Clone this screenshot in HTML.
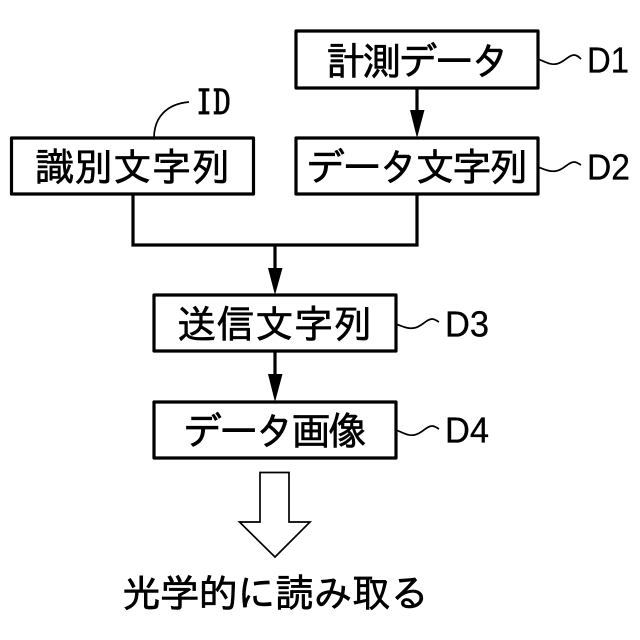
<!DOCTYPE html>
<html><head><meta charset="utf-8"><style>
html,body{margin:0;padding:0;background:#fff}
svg{display:block}
text{font-family:"IPAGothic","Noto Sans CJK JP",sans-serif;fill:#000}
.l{font-family:"Liberation Sans",sans-serif;font-size:36px;stroke:#000;stroke-width:.3px}
.j{font-size:39px;stroke:#000;stroke-width:.6px}
</style></head><body>
<svg width="640" height="640" viewBox="0 0 640 640" xmlns="http://www.w3.org/2000/svg">
<g fill="#fff" stroke="#000" stroke-width="3.2" stroke-linejoin="round">
<rect x="296" y="31" width="242" height="57"/>
<rect x="296" y="138" width="242" height="56"/>
<rect x="11.500" y="138" width="242" height="56"/>
<rect x="154" y="295" width="242" height="56"/>
<rect x="154" y="402" width="242" height="56"/>
</g>
<g fill="none" stroke="#000" stroke-width="3.200">
<path d="M417 88V120"/>
<path d="M133 194V245H417V194"/>
<path d="M275 245V275"/>
<path d="M275 351V378"/>
</g>
<g fill="#000">
<path d="M410 110H424.500L417 138Z"/>
<path d="M268 268H282.500L275 295Z"/>
<path d="M268 374H282.500L275 402Z"/>
</g>
<g fill="none" stroke="#000" stroke-width="1.700">
<path d="M154 138C154 118 166 104 189 102"/>
<path d="M538 59C546 62 550 65 556 64C564 63 568 55 574 55C577 55 579 57 581 59"/>
<path d="M538 167C546 170 550 172 556 171C564 170 568 162 574 162C577 162 579 164 581 165"/>
<path d="M396 324C404 327 408 329 414 328C422 327 426 319 432 319C435 319 437 321 439 322"/>
<path d="M396 430C404 433 408 436 414 435C422 434 426 426 432 426C435 426 437 428 439 429"/>
</g>
<path d="M260 472.500H289V522H310L275 557L239.500 522H260Z" fill="#fff" stroke="#000" stroke-width="1.700"/>
<text class="j" x="326" y="75" textLength="184" lengthAdjust="spacing">計測データ</text>
<text class="j" x="35" y="181" textLength="195" lengthAdjust="spacing">識別文字列</text>
<text class="j" x="306" y="181" textLength="222" lengthAdjust="spacing">データ文字列</text>
<text class="j" x="177" y="338" textLength="195" lengthAdjust="spacing">送信文字列</text>
<text class="j" x="183" y="445" textLength="184" lengthAdjust="spacing">データ画像</text>
<text class="j" x="122" y="607" textLength="307" lengthAdjust="spacing">光学的に読み取る</text>
<text x="195" y="116" textLength="36" lengthAdjust="spacingAndGlyphs" style="font-size:37px;stroke:#000;stroke-width:.4px">ID</text>
<text class="l" x="587" y="72.500" textLength="42" lengthAdjust="spacingAndGlyphs">D1</text>
<text class="l" x="587" y="179.500" textLength="43" lengthAdjust="spacingAndGlyphs">D2</text>
<text class="l" x="445" y="336.500" textLength="44" lengthAdjust="spacingAndGlyphs">D3</text>
<text class="l" x="445" y="442.500" textLength="44" lengthAdjust="spacingAndGlyphs">D4</text>
</svg>
</body></html>
